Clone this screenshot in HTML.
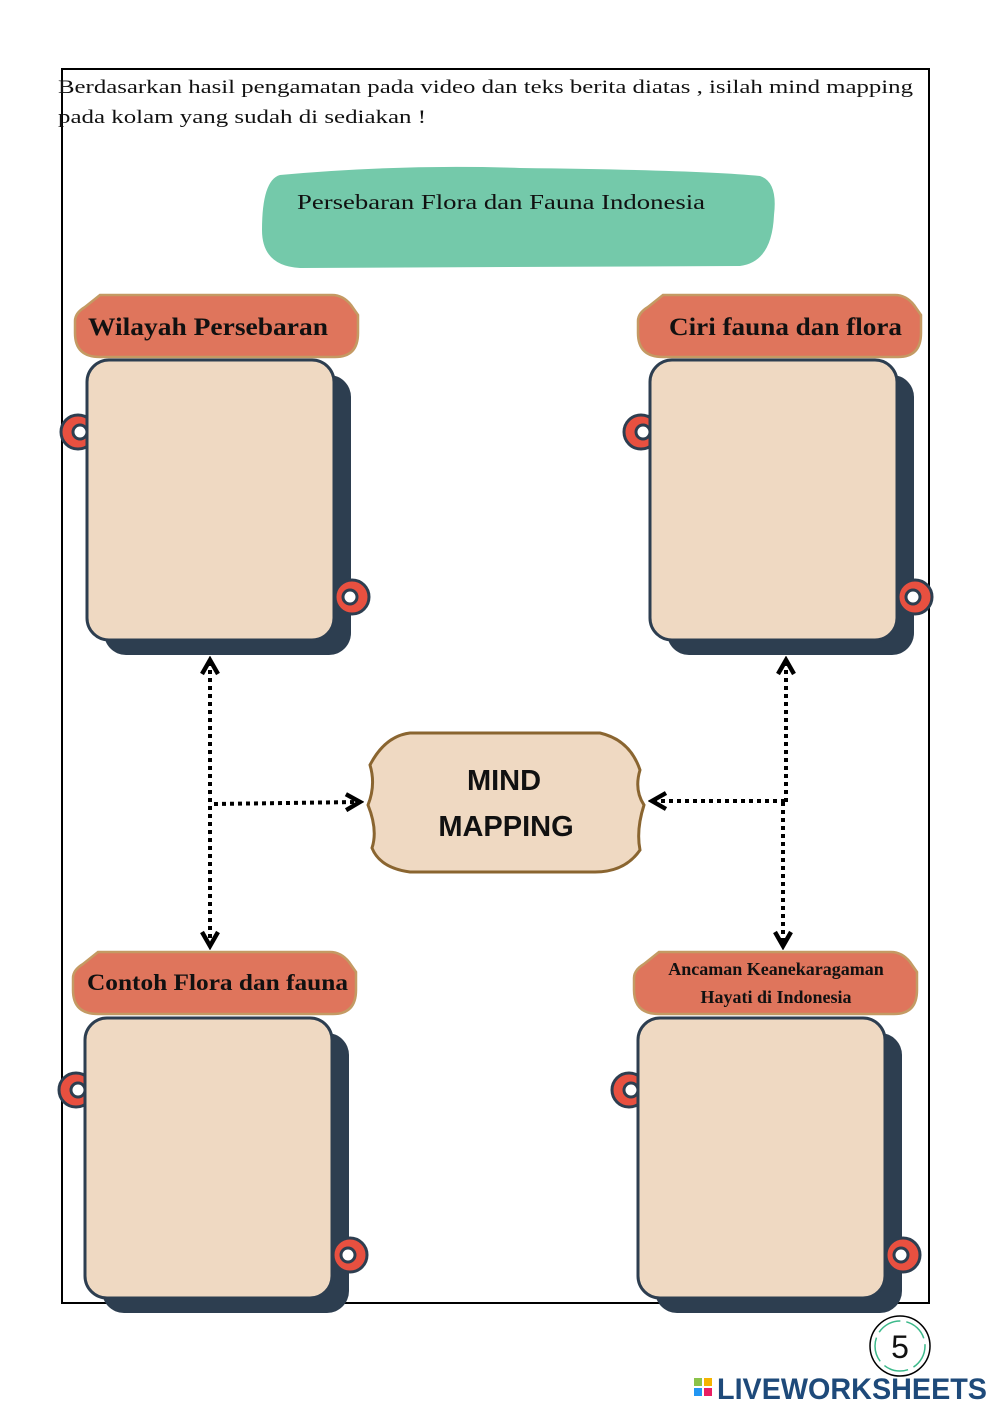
<!DOCTYPE html>
<html><head><meta charset="utf-8"><style>
body{margin:0;background:#fff;}
svg{display:block}
text{font-family:"Liberation Serif",serif;fill:#111}
</style></head><body>
<svg width="1000" height="1414" viewBox="0 0 1000 1414" xmlns="http://www.w3.org/2000/svg">
<defs>
<marker id="ah" viewBox="0 0 10 10" refX="7" refY="5" markerWidth="5" markerHeight="5" orient="auto-start-reverse">
<path d="M1,1 L8,5 L1,9" fill="none" stroke="#000" stroke-width="2.2"/>
</marker>
<g id="card">
<rect x="17" y="15" width="247" height="280" rx="22" fill="#2d3e50"/>
<circle cx="-9" cy="72" r="17" fill="#e85040" stroke="#2d3e50" stroke-width="3"/>
<circle cx="-7" cy="72" r="7" fill="#fff" stroke="#2d3e50" stroke-width="3"/>
<circle cx="265" cy="237" r="17" fill="#e85040" stroke="#2d3e50" stroke-width="3"/>
<circle cx="263" cy="237" r="7" fill="#fff" stroke="#2d3e50" stroke-width="3"/>
<rect x="0" y="0" width="247" height="280" rx="22" fill="#efd9c2" stroke="#2d3e50" stroke-width="3"/>
</g>
<path id="tab" d="M25,2 L257,2 Q268,2 276,12 L283,22 L283,40 Q283,64 260,64 L25,64 Q0,64 0,40 L0,28 Q0,20 10,14 Z" fill="#df755c" stroke="#c49a63" stroke-width="2.5"/>
</defs>
<rect x="62" y="69" width="867" height="1234" fill="none" stroke="#000" stroke-width="2"/>
<text x="58" y="93" font-size="19" textLength="855" lengthAdjust="spacingAndGlyphs">Berdasarkan hasil pengamatan pada video dan teks berita diatas , isilah mind mapping</text>
<text x="58" y="123" font-size="19" textLength="368" lengthAdjust="spacingAndGlyphs">pada kolam yang sudah di sediakan  !</text>
<path d="M280,175 Q400,164 520,168 Q700,170 760,176 Q778,182 774,215 Q772,262 740,266 L300,268 Q262,266 262,230 Q262,180 280,175 Z" fill="#74c9aa"/>
<text x="297" y="209" font-size="21" textLength="408" lengthAdjust="spacingAndGlyphs">Persebaran Flora dan Fauna Indonesia</text>

<use href="#card" x="87" y="360"/>
<use href="#card" x="650" y="360"/>
<use href="#card" x="85" y="1018"/>
<use href="#card" x="638" y="1018"/>

<use href="#tab" x="75" y="293"/>
<use href="#tab" x="638" y="293"/>
<use href="#tab" x="73" y="950"/>
<use href="#tab" x="634" y="950"/>
<text x="88" y="335" font-size="25" font-weight="bold" textLength="240" lengthAdjust="spacingAndGlyphs">Wilayah Persebaran</text>
<text x="669" y="335" font-size="25" font-weight="bold" textLength="233" lengthAdjust="spacingAndGlyphs">Ciri fauna dan flora</text>
<text x="87" y="990" font-size="23" font-weight="bold" textLength="261" lengthAdjust="spacingAndGlyphs">Contoh Flora dan fauna</text>
<text x="776" y="975" font-size="18" font-weight="bold" text-anchor="middle">Ancaman Keanekaragaman</text>
<text x="776" y="1003" font-size="18" font-weight="bold" text-anchor="middle">Hayati di Indonesia</text>

<path d="M410,733 L600,733 Q630,740 640,770 Q634,790 644,805 Q636,830 640,850 Q625,872 595,872 L410,872 Q380,868 372,848 Q378,830 368,805 Q376,785 370,765 Q385,736 410,733 Z" fill="#efd9c2" stroke="#8a6530" stroke-width="3"/>
<text x="504" y="790" font-size="29" font-weight="bold" text-anchor="middle" style="font-family:'Liberation Sans',sans-serif">MIND</text>
<text x="506" y="836" font-size="29" font-weight="bold" text-anchor="middle" style="font-family:'Liberation Sans',sans-serif">MAPPING</text>

<g stroke="#000" stroke-width="4" stroke-dasharray="4,4" fill="none">
<line x1="210" y1="662" x2="210" y2="944" marker-start="url(#ah)" marker-end="url(#ah)"/>
<line x1="214" y1="804" x2="358" y2="802" marker-end="url(#ah)"/>
<line x1="786" y1="662" x2="786" y2="802" marker-start="url(#ah)"/>
<line x1="783" y1="802" x2="783" y2="944" marker-end="url(#ah)"/>
<line x1="785" y1="801" x2="654" y2="801" marker-end="url(#ah)"/>
</g>

<circle cx="900" cy="1346" r="30" fill="#fff" stroke="#000" stroke-width="1.5"/>
<circle cx="900" cy="1346" r="25" fill="none" stroke="#3cb98a" stroke-width="1.5" stroke-dasharray="25,6"/>
<text x="900" y="1358" font-size="32" text-anchor="middle" style="font-family:'Liberation Sans',sans-serif">5</text>
<rect x="694" y="1378" width="8" height="8" fill="#8bc34a"/>
<rect x="704" y="1378" width="8" height="8" fill="#f5b400"/>
<rect x="694" y="1388" width="8" height="8" fill="#2196f3"/>
<rect x="704" y="1388" width="8" height="8" fill="#e91e63"/>
<text x="717" y="1399" font-size="30" font-weight="bold" textLength="270" lengthAdjust="spacingAndGlyphs" style="font-family:'Liberation Sans',sans-serif;fill:#1e4a7a">LIVEWORKSHEETS</text>
</svg>
</body></html>
